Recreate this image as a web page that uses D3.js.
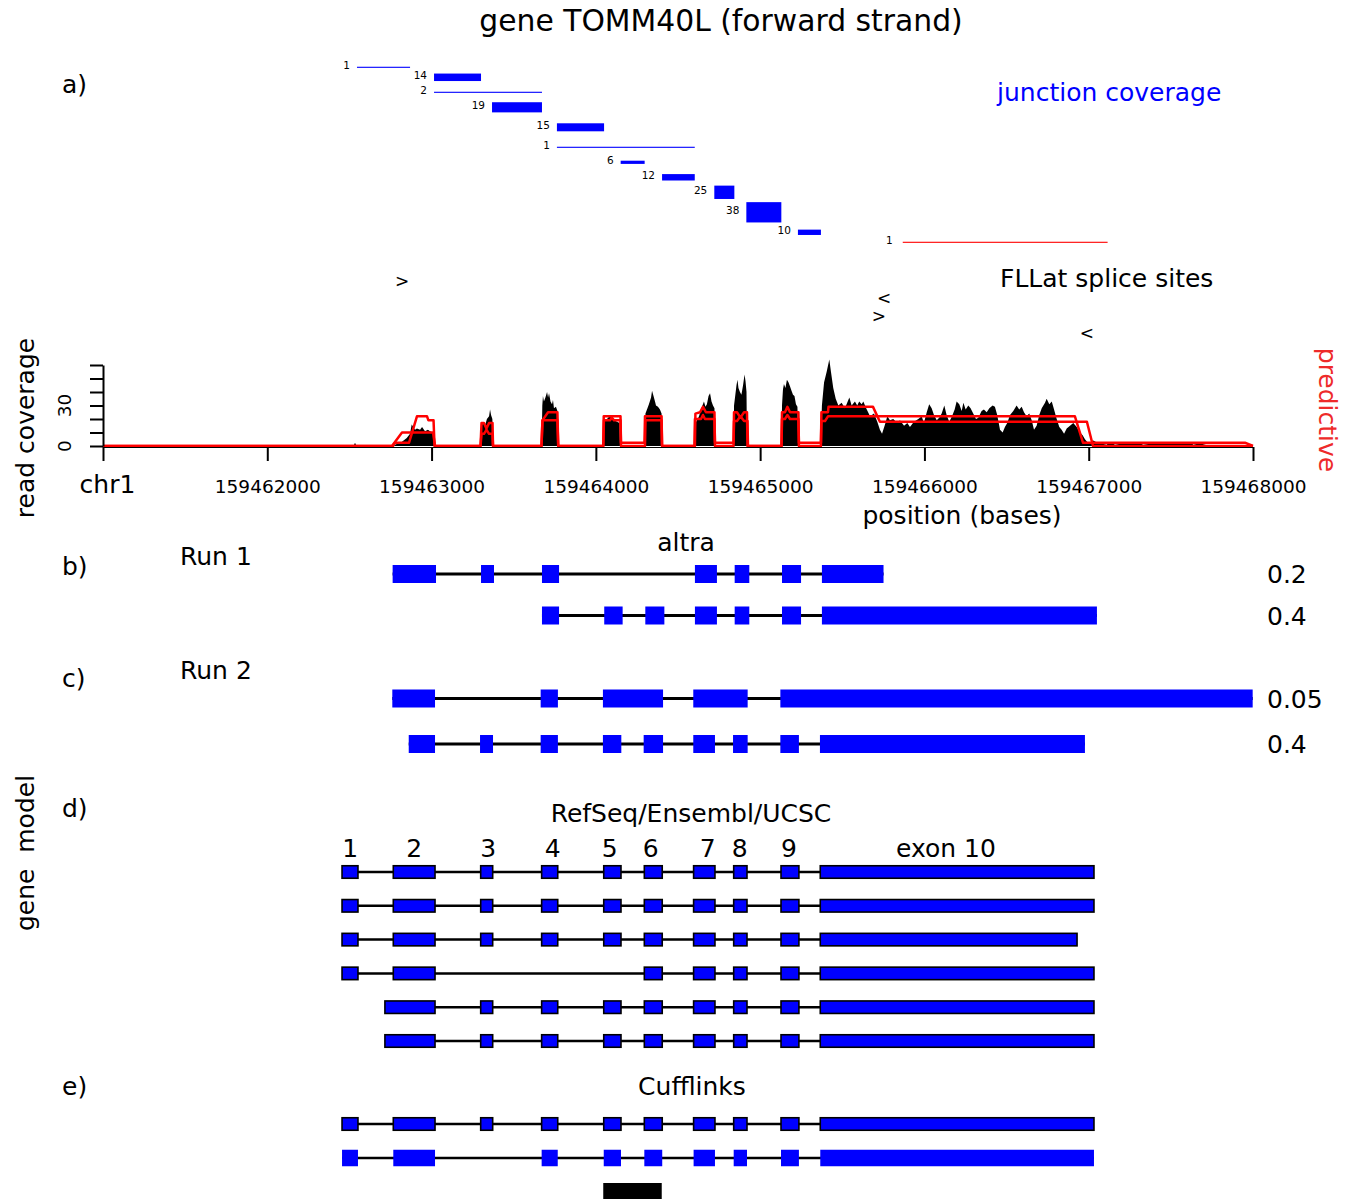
<!DOCTYPE html>
<html>
<head>
<meta charset="utf-8">
<script src="https://cdn.jsdelivr.net/npm/d3@7"></script>
<style>
  body { margin: 0; background: #fff; }
  text { font-family: "DejaVu Sans", sans-serif; }
</style>
</head>
<body>
<div id="chart"></div>
<script>
// ---- data (positions are bp offsets from regionStart on chr1) ----
const regionStart = 159461000;
const regionEnd = 159468000;
const xTicks = [0, 1000, 2000, 3000, 4000, 5000, 6000, 7000];
const xTickLabels = ["chr1", "159462000", "159463000", "159464000", "159465000", "159466000", "159467000", "159468000"];
const covTicks = [0, 10, 20, 30, 40, 50, 60];
const covTickLabels = [0, 30];

// a) junction coverage
const juncStart = [1546, 2015, 2015, 2368, 2763, 2763, 3151, 3403, 3721, 3916, 4230, 4868];
const juncEnd   = [1869, 2301, 2672, 2672, 3050, 3602, 3297, 3602, 3843, 4129, 4370, 6115];
const juncCount = [1, 14, 2, 19, 15, 1, 6, 12, 25, 38, 10, 1];
const juncLevel = [0, 2, 5, 8, 12, 16, 19, 22, 25, 29, 33, 35];
const juncNovel = [false, false, false, false, false, false, false, false, false, false, false, true];

// FLLat splice sites
const sitePos = [1820, 4754, 4723, 5989];
const siteSymbol = [">", "<", ">", "<"];
const siteLevel = [0, 1, 2, 3];

// read coverage [position, reads]
const coverage = [
  [1525,0],[1534,2.5],[1543,0],
  [1765,0],[1777,1],[1818,3],[1849,6],[1869,9],[1879,16],[1889,14],[1899,12],[1911,13],[1930,12],[1942,14],[1960,11],[1978,12],[1990,11],[2009,10],[2018,8],[2024,0],
  [2299,0],[2301,14],[2313,17],[2325,15],[2337,20],[2350,22],[2356,27],[2362,23],[2370,20],[2374,0],
  [2670,0],[2674,30],[2678,37],[2684,33],[2693,36],[2703,40],[2709,36],[2715,39],[2724,33],[2733,31],[2739,34],[2745,28],[2757,29],[2766,26],[2771,0],
  [3045,0],[3048,18],[3062,19],[3074,21],[3086,22],[3098,20],[3110,19],[3129,18],[3144,17],[3147,0],
  [3299,0],[3302,24],[3314,28],[3323,31],[3336,36],[3342,41],[3351,37],[3360,33],[3366,30],[3378,29],[3390,27],[3400,24],[3403,0],
  [3603,0],[3606,17],[3616,19],[3628,22],[3640,27],[3649,30],[3658,33],[3667,29],[3676,31],[3686,37],[3695,39],[3704,33],[3713,30],[3722,28],[3725,0],
  [3839,0],[3841,30],[3847,36],[3856,45],[3862,49],[3868,43],[3877,40],[3886,38],[3896,45],[3905,53],[3911,48],[3917,40],[3920,0],
  [4131,0],[4133,30],[4139,42],[4145,46],[4154,43],[4163,49],[4173,47],[4182,44],[4191,41],[4200,38],[4209,37],[4218,31],[4227,29],[4232,0],
  [4369,0],[4376,30],[4389,47],[4405,55],[4421,64],[4431,55],[4445,43],[4460,35],[4476,30],[4496,32],[4516,28],[4543,36],[4557,30],[4577,33],
  [4591,30],[4603,33],[4618,31],[4628,33],[4649,27],[4669,22],[4693,24],[4713,18],[4729,12],[4742,9],[4760,16],[4774,22],[4790,19],[4810,20],
  [4835,17],[4851,19],[4876,15],[4896,17],[4912,14],[4936,18],[4963,20],[4983,22],[4997,17],[5014,25],[5029,31],[5044,28],[5058,23],[5075,19],
  [5090,21],[5105,24],[5121,30],[5135,23],[5151,18],[5168,22],[5184,27],[5196,33],[5212,31],[5227,26],[5237,32],[5251,27],[5267,30],[5281,28],
  [5297,24],[5314,20],[5328,21],[5348,26],[5362,27],[5379,25],[5395,28],[5415,30],[5429,29],[5443,23],[5460,12],[5476,10],[5490,14],[5504,17],
  [5521,23],[5541,26],[5561,30],[5577,27],[5592,29],[5606,25],[5622,22],[5638,24],[5653,19],[5667,12],[5683,15],[5699,23],[5714,28],[5734,32],
  [5744,35],[5760,31],[5775,33],[5789,27],[5805,20],[5821,14],[5835,12],[5850,9],[5866,13],[5886,15],[5906,17],[5927,14],[5947,10],[5963,8],
  [5977,5],[5991,3],[6008,2],[6028,4],[6044,3],[6069,2],[6109,1],[6129,3],[6160,1],[6210,2],[6231,3],[6271,2],[6292,3],[6332,1],[6393,2],
  [6423,3],[6475,2],[6556,2],[6576,3],[6616,3],[6637,1],[6677,2],[6708,1],[6738,0]
];

// predicted coverage, run 1 and run 2
const predRun1 = [
  [0,0],[1759,0],[1820,10],[2009,10],[2021,0],
  [2298,0],[2304,9],[2319,9],[2334,12],[2350,9],[2371,9],[2374,0],
  [2669,0],[2675,19],[2709,25],[2766,25],[2771,0],
  [3045,0],[3049,19],[3086,19],[3098,21],[3110,19],[3150,19],[3153,0],
  [3299,0],[3302,19],[3400,19],[3403,0],
  [3603,0],[3606,24],[3634,25],[3652,29],[3670,25],[3722,25],[3725,0],
  [3838,0],[3841,25],[3859,25],[3880,21],[3902,25],[3920,25],[3923,0],
  [4130,0],[4133,25],[4151,25],[4166,29],[4182,25],[4233,25],[4236,0],
  [4370,0],[4373,25],[4413,25],[4416,29],[4687,29],[4729,18],[5989,18],[6026,0],[7000,0]
];
const predRun2 = [
  [0,0],[1765,0],[1777,2.5],[1863,2.5],[1911,22],[1972,22],[1981,19],[2012,19],[2018,0],
  [2298,0],[2304,17],[2319,17],[2334,13],[2350,17],[2371,17],[2374,0],
  [2669,0],[2675,19],[2766,19],[2771,0],
  [3045,0],[3048,22],[3150,22],[3153,2.5],[3296,2.5],[3299,22],[3400,22],[3403,0],
  [3600,0],[3603,20],[3640,20],[3652,23],[3664,20],[3722,20],[3725,2.5],[3838,2.5],
  [3841,18.5],[3859,18.5],[3880,22],[3902,18.5],[3923,18.5],[3926,0],
  [4130,0],[4133,20],[4151,20],[4166,23],[4182,20],[4233,20],[4236,2.5],[4370,2.5],
  [4373,18.5],[4395,18.5],[4413,22],[5916,22],[5965,2.5],[6951,2.5],[7000,0]
];

// b) altra run 1
const run1Transcripts = [
  [[1763,2027],[2301,2380],[2672,2776],[3603,3737],[3845,3934],[4133,4249],[4376,4751]],
  [[2672,2776],[3051,3163],[3301,3417],[3603,3737],[3845,3934],[4133,4249],[4376,6050]]
];
const run1Abundance = ["0.2", "0.4"];

// c) altra run 2
const run2Transcripts = [
  [[1761,2021],[2664,2769],[3043,3409],[3593,3924],[4123,6998]],
  [[1861,2021],[2295,2374],[2664,2769],[3043,3155],[3291,3409],[3593,3725],[3835,3924],[4123,4236],[4364,5977]]
];
const run2Abundance = ["0.05", "0.4"];

// d) RefSeq/Ensembl/UCSC
const exonNames = ["1", "2", "3", "4", "5", "6", "7", "8", "9", "exon 10"];
const exonLabelPos = [1504, 1894, 2344, 2737, 3084, 3334, 3681, 3876, 4175, 5131];
const refTranscripts = [
  [[1455,1552],[1767,2021],[2299,2372],[2670,2768],[3048,3153],[3295,3404],[3595,3725],[3839,3920],[4127,4236],[4366,6032]],
  [[1455,1552],[1767,2021],[2299,2372],[2670,2768],[3048,3153],[3295,3404],[3595,3725],[3839,3920],[4127,4236],[4366,6032]],
  [[1455,1552],[1767,2021],[2299,2372],[2670,2768],[3048,3153],[3295,3404],[3595,3725],[3839,3920],[4127,4236],[4366,5929]],
  [[1455,1552],[1767,2021],[3295,3404],[3595,3725],[3839,3920],[4127,4236],[4366,6032]],
  [[1716,2021],[2299,2372],[2670,2768],[3048,3153],[3295,3404],[3595,3725],[3839,3920],[4127,4236],[4366,6032]],
  [[1716,2021],[2299,2372],[2670,2768],[3048,3153],[3295,3404],[3595,3725],[3839,3920],[4127,4236],[4366,6032]]
];

// e) Cufflinks
const cuffTranscripts = [
  [[1455,1552],[1767,2021],[2299,2372],[2670,2768],[3048,3153],[3295,3404],[3595,3725],[3839,3920],[4127,4236],[4366,6032]],
  [[1455,1552],[1767,2021],[2670,2768],[3048,3153],[3295,3404],[3595,3725],[3839,3920],[4127,4236],[4366,6032]]
];
const cuffRegion = [3045, 3401];

// ---- drawing ----
const W = 1356, H = 1199;
const svg = d3.select("#chart").append("svg")
  .attr("width", W).attr("height", H)
  .style("display", "block");
svg.append("rect").attr("width", W).attr("height", H).attr("fill", "#fff");

const x = d3.scaleLinear().domain([0, regionEnd - regionStart]).range([103, 1253]);

const blue = "#0000ff", red = "#ff0000";

function label(txt, px, py, size, opts = {}) {
  const t = svg.append("text")
    .attr("x", px).attr("y", py)
    .attr("font-size", size)
    .attr("fill", opts.fill || "#000")
    .attr("text-anchor", opts.anchor || "start")
    .style("white-space", "pre")
    .text(txt);
  if (opts.rotate) t.attr("transform", `rotate(${opts.rotate},${px},${py})`);
  return t;
}

// title + panel letters
label("gene TOMM40L (forward strand)", 721, 31, 29.8, { anchor: "middle" });
label("a)", 62, 93, 25);
label("b)", 62, 575, 25);
label("c)", 62, 687, 25);
label("d)", 62, 817, 25);
label("e)", 62, 1095, 25);

// ---- a) junction coverage ----
const juncY = d3.scaleLinear().domain([0, 35]).range([67.3, 242.3]);
const juncH = d3.scaleLinear().domain([0, 38]).range([0, 20.3]);

const junctions = juncStart.map((s, i) => ({
  s, e: juncEnd[i], n: juncCount[i], lvl: juncLevel[i], novel: juncNovel[i]
}));

const jg = svg.append("g");
jg.selectAll("rect").data(junctions).enter().append("rect")
  .attr("x", d => x(d.s))
  .attr("width", d => x(d.e) - x(d.s))
  .attr("y", d => juncY(d.lvl) - Math.max(1.1, juncH(d.n)) / 2)
  .attr("height", d => Math.max(1.1, juncH(d.n)))
  .attr("fill", d => d.novel ? red : blue);
jg.selectAll("text").data(junctions).enter().append("text")
  .attr("x", d => x(d.s) - (d.novel ? 10 : 7))
  .attr("y", d => juncY(d.lvl) + 1.5)
  .attr("text-anchor", "end")
  .attr("font-size", 10.5)
  .text(d => d.n);

label("junction coverage", 997, 101, 25, { fill: blue });

// splice sites
const siteY = d3.scaleLinear().domain([0, 3]).range([281, 333]);
svg.append("g").selectAll("text").data(sitePos).enter().append("text")
  .attr("x", d => x(d))
  .attr("y", (d, i) => siteY(siteLevel[i]) + 6)
  .attr("text-anchor", "middle")
  .attr("font-size", 17)
  .text((d, i) => siteSymbol[i]);
label("FLLat splice sites", 1000, 287, 25);

// ---- read coverage ----
const yCov = d3.scaleLinear().domain([0, 60]).range([446, 365]);

svg.append("path")
  .datum(coverage)
  .attr("fill", "#000")
  .attr("d", d3.area().x(d => x(d[0])).y0(yCov(0)).y1(d => yCov(d[1])));

const predLine = d3.line().x(d => x(d[0])).y(d => yCov(d[1]));
[predRun1, predRun2].forEach(run => {
  svg.append("path").datum(run)
    .attr("fill", "none").attr("stroke", red)
    .attr("stroke-width", 2.5)
    .attr("stroke-linejoin", "round")
    .attr("d", predLine);
});

// x axis
const xAxis = svg.append("g")
  .attr("transform", "translate(0,447)")
  .call(d3.axisBottom(x).tickValues(xTicks).tickSize(14).tickSizeOuter(0)
    .tickFormat((d, i) => xTickLabels[i]));
xAxis.select(".domain").attr("stroke", "#000").attr("stroke-width", 1);
xAxis.selectAll(".tick line").attr("stroke-width", 2);
xAxis.selectAll(".tick text")
  .attr("y", 33).attr("dy", "0.71em")
  .attr("font-size", 18.5)
  .style("font-family", "DejaVu Sans");
xAxis.selectAll(".tick text").filter((d, i) => i === 0)
  .attr("font-size", 25).attr("dx", 4).attr("y", 28);

// y axis
const yAxis = svg.append("g")
  .attr("transform", "translate(103,0)")
  .call(d3.axisLeft(yCov).tickValues(covTicks).tickSize(13).tickSizeOuter(0).tickFormat(""));
yAxis.select(".domain").attr("stroke-width", 2);
yAxis.selectAll(".tick line").attr("stroke-width", 2);
svg.append("g").selectAll("text").data(covTickLabels).enter().append("text")
  .attr("transform", d => `translate(71,${yCov(d)}) rotate(-90)`)
  .attr("text-anchor", "middle")
  .attr("font-size", 18.5)
  .text(d => d);

label("read coverage", 34, 428, 25, { anchor: "middle", rotate: -90 });
label("predictive", 1319, 410, 25, { anchor: "middle", rotate: 90, fill: "#ee2a2a" });
label("position (bases)", 962, 524, 25, { anchor: "middle" });

// ---- transcript drawing ----
function drawTranscript(exons, cy, h, opts = {}) {
  const g = svg.append("g");
  g.append("line")
    .attr("x1", x(exons[0][0])).attr("x2", x(exons[exons.length - 1][1]))
    .attr("y1", cy).attr("y2", cy)
    .attr("stroke", "#000").attr("stroke-width", opts.lw || 2.5);
  g.selectAll("rect").data(exons).enter().append("rect")
    .attr("x", d => x(d[0]))
    .attr("width", d => x(d[1]) - x(d[0]))
    .attr("y", cy - h / 2).attr("height", h)
    .attr("fill", blue)
    .attr("stroke", opts.outline ? "#000" : "none")
    .attr("stroke-width", opts.outline ? 1.6 : 0);
}

// b) altra run 1
label("Run 1", 180, 565, 25);
label("altra", 686, 551, 25, { anchor: "middle" });
const run1Y = [574, 615.5];
run1Transcripts.forEach((t, i) => {
  drawTranscript(t, run1Y[i], 18, { lw: 3 });
  label(run1Abundance[i], 1267, run1Y[i] + 9, 25);
});

// c) altra run 2
label("Run 2", 180, 679, 25);
const run2Y = [698.5, 744];
run2Transcripts.forEach((t, i) => {
  drawTranscript(t, run2Y[i], 18, { lw: 3 });
  label(run2Abundance[i], 1267, run2Y[i] + 9, 25);
});

// d) RefSeq/Ensembl/UCSC
label("gene  model", 34, 853, 25, { anchor: "middle", rotate: -90 });
label("RefSeq/Ensembl/UCSC", 691, 822, 25, { anchor: "middle" });
svg.append("g").selectAll("text").data(exonLabelPos).enter().append("text")
  .attr("x", d => x(d))
  .attr("y", 857)
  .attr("text-anchor", "middle")
  .attr("font-size", 25)
  .text((d, i) => exonNames[i]);
const refY = d3.scalePoint().domain(d3.range(refTranscripts.length)).range([872, 1041]);
refTranscripts.forEach((t, i) => drawTranscript(t, refY(i), 12.5, { outline: true, lw: 2.5 }));

// e) Cufflinks
label("Cufflinks", 692, 1095, 25, { anchor: "middle" });
drawTranscript(cuffTranscripts[0], 1124, 12.5, { outline: true, lw: 2.5 });
drawTranscript(cuffTranscripts[1], 1158, 16.5, { lw: 2.5 });
svg.append("rect")
  .attr("x", x(cuffRegion[0])).attr("width", x(cuffRegion[1]) - x(cuffRegion[0]))
  .attr("y", 1183).attr("height", 18)
  .attr("fill", "#000");
</script>
</body>
</html>
